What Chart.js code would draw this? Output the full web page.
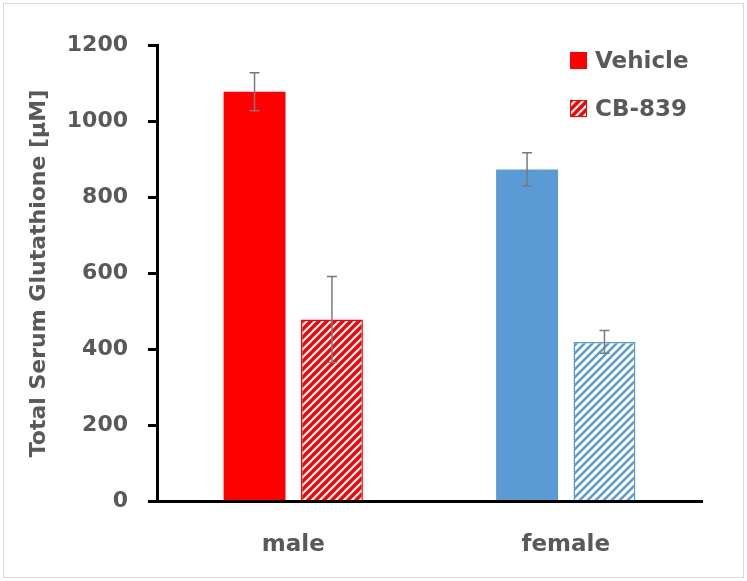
<!DOCTYPE html>
<html><head><meta charset="utf-8">
<script src="https://cdn.jsdelivr.net/npm/chart.js@4.4.1/dist/chart.umd.min.js"></script>
<style>html,body{margin:0;padding:0;background:#fff}#wrap{width:747px;height:581px}</style>
</head><body><div id="wrap"><canvas id="c" width="747" height="581"></canvas></div>
<script>
// ---- data ----
const categories = ['male', 'female'];
const seriesNames = ['Vehicle', 'CB-839'];
const vehicleValues = [1078, 874];
const vehicleErrors = [50, 44];
const cb839Values = [479, 420];
const cb839Errors = [113, 30];
const yTickValues = [0, 200, 400, 600, 800, 1000, 1200];
const yAxisTitle = 'Total Serum Glutathione [µM]';

// ---- styles ----
const groupColors = ['#FF0000', '#5B9BD5'];
const textColor = '#595959';
const FONT = "'DejaVu Sans', sans-serif";

function hatch(color, lw) {
  const s = 8, c = document.createElement('canvas');
  c.width = s; c.height = s;
  const x = c.getContext('2d');
  x.fillStyle = '#fff'; x.fillRect(0, 0, s, s);
  x.strokeStyle = color; x.lineWidth = lw;
  x.beginPath();
  x.moveTo(-2, s + 2); x.lineTo(s + 2, -2);
  x.moveTo(-4, 4); x.lineTo(4, -4);
  x.moveTo(s - 4, s + 4); x.lineTo(s + 4, s - 4);
  x.stroke();
  return x.createPattern(c, 'repeat');
}
const hatchWidths = [3.4, 2.6];
const hatchFills = groupColors.map((c, i) => hatch(c, hatchWidths[i]));
const errorSets = [vehicleErrors, cb839Errors];

const framePlugin = {
  id: 'frame',
  beforeDraw(chart) {
    const ctx = chart.ctx;
    ctx.save();
    ctx.fillStyle = '#fff';
    ctx.fillRect(0, 0, chart.width, chart.height);
    ctx.strokeStyle = '#d9d9d9';
    ctx.lineWidth = 1;
    ctx.strokeRect(3.5, 3.5, chart.width - 7, chart.height - 7);
    ctx.restore();
  }
};

const errorBarPlugin = {
  id: 'errorBars',
  afterDatasetsDraw(chart) {
    const ctx = chart.ctx, y = chart.scales.y;
    chart.data.datasets.forEach((ds, di) => {
      const meta = chart.getDatasetMeta(di);
      meta.data.forEach((bar, i) => {
        const v = ds.data[i], e = errorSets[di][i];
        const top = y.getPixelForValue(v + e), bot = y.getPixelForValue(v - e);
        ctx.save();
        ctx.strokeStyle = '#7a7a7a';
        ctx.lineWidth = 1.5;
        ctx.beginPath();
        ctx.moveTo(bar.x, top); ctx.lineTo(bar.x, bot);
        ctx.moveTo(bar.x - 5, top); ctx.lineTo(bar.x + 5, top);
        ctx.moveTo(bar.x - 5, bot); ctx.lineTo(bar.x + 5, bot);
        ctx.stroke();
        ctx.restore();
      });
    });
  }
};

const legendPlugin = {
  id: 'customLegend',
  afterDraw(chart) {
    const ctx = chart.ctx, a = chart.chartArea;
    const fills = [groupColors[0], hatchFills[0]];
    ctx.save();
    ctx.font = "bold 23px " + FONT;
    ctx.textBaseline = 'middle';
    ctx.textAlign = 'left';
    seriesNames.forEach((name, i) => {
      const bx = a.right - 132, by = a.top + 6.5 + i * 48;
      ctx.fillStyle = fills[i];
      ctx.fillRect(bx, by, 17, 17);
      ctx.strokeStyle = groupColors[0];
      ctx.lineWidth = 1;
      ctx.strokeRect(bx + 0.5, by + 0.5, 16, 16);
      ctx.fillStyle = textColor;
      ctx.fillText(name, bx + 25, by + 10);
    });
    ctx.restore();
  }
};

new Chart(document.getElementById('c'), {
  type: 'bar',
  data: {
    labels: categories,
    datasets: [
      { label: seriesNames[0], data: vehicleValues, backgroundColor: groupColors, borderColor: groupColors, borderWidth: 0 },
      { label: seriesNames[1], data: cb839Values, backgroundColor: hatchFills, borderColor: groupColors, borderWidth: 1.5 }
    ]
  },
  options: {
    responsive: false,
    animation: false,
    devicePixelRatio: 1,
    categoryPercentage: 0.568,
    barPercentage: 0.80,
    layout: { padding: { left: 20, top: 45.5, right: 45, bottom: 0 } },
    plugins: { legend: { display: false }, tooltip: { enabled: false } },
    scales: {
      x: {
        z: 1,
        grid: { display: false },
        border: { display: true, color: '#000', width: 3 },
        ticks: { color: textColor, font: { family: FONT, size: 23, weight: 'bold' }, padding: 22 },
        afterFit(scale) { scale.height = 79.5; }
      },
      y: {
        min: 0, max: 1200,
        afterBuildTicks(scale) { scale.ticks = yTickValues.map(v => ({ value: v })); },
        grid: { display: true, drawOnChartArea: false, drawTicks: true, tickLength: 9, color: '#000', lineWidth: 3 },
        border: { display: true, color: '#000', width: 3 },
        ticks: { color: textColor, font: { family: FONT, size: 22, weight: 'bold' }, padding: 20, callback: (v) => String(v) },
        title: { display: true, text: yAxisTitle, color: textColor, font: { family: FONT, size: 22, weight: 'bold' }, padding: { top: 6, bottom: 0 } },
        afterFit(scale) { scale.width = 137; }
      }
    }
  },
  plugins: [framePlugin, errorBarPlugin, legendPlugin]
});
</script>
</body></html>
